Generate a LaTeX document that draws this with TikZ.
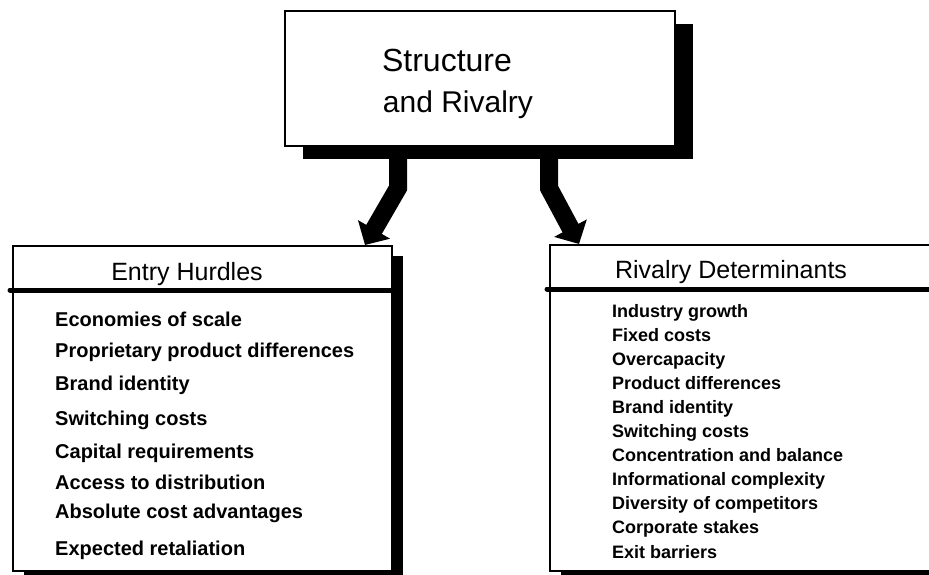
\documentclass[tikz,border=0pt]{standalone}
\usepackage{fontspec}
\setmainfont{Liberation Sans}
\usetikzlibrary{arrows.meta,calc,shadows}
\begin{document}
\begin{tikzpicture}[x=1pt,y=-1pt,
  box/.style={draw=black, line width=2pt, fill=white, inner sep=0pt, anchor=north west},
  topshadow/.style={drop shadow={shadow xshift=18pt, shadow yshift=-13pt, fill=black, opacity=1, draw=none}},
  lowshadow/.style={drop shadow={shadow xshift=11pt, shadow yshift=-10pt, fill=black, opacity=1, draw=none}},
  bigarrow/.style={draw=black, line width=18pt, line join=miter, -{Triangle[length=18pt,width=36pt]}},
  hline/.style={draw=black, line width=5pt, line cap=round},
  titletext/.style={inner sep=0pt, anchor=base, font=\fontsize{30}{36}\selectfont},
  headtext/.style={inner sep=0pt, anchor=base, font=\fontsize{25}{30}\selectfont},
  litem/.style={inner sep=0pt, anchor=base west, font=\fontsize{20}{24}\selectfont\bfseries},
  ritem/.style={inner sep=0pt, anchor=base west, font=\fontsize{18}{22}\selectfont\bfseries}
]
\path[use as bounding box] (0,0) rectangle (929,575);
\clip (0,0) rectangle (929,575);
\fill[white] (0,0) rectangle (929,575);

% boxes
\node[box, topshadow, minimum width=390pt, minimum height=135pt] (top) at (284,10) {};
\node[box, lowshadow, minimum width=379pt, minimum height=325pt] (ebox) at (12,245) {};
\node[box, lowshadow, minimum width=400pt, minimum height=326pt] (rbox) at (549,244) {};

% arrows
\coordinate (la) at ($(top.south west)+(114,8)$);
\coordinate (lb) at ($(top.south west)+(114,41)$);
\coordinate (lt) at ($(ebox.north west)+(353,0)$);
\coordinate (ra) at ($(top.south west)+(265,8)$);
\coordinate (rb) at ($(top.south west)+(265,41)$);
\coordinate (rt) at ($(rbox.north west)+(30,0)$);
\draw[bigarrow] (la) -- (lb) -- (lt);
\draw[bigarrow] (ra) -- (rb) -- (rt);

% header rules
\draw[hline] ($(ebox.north west)+(-2,45)$) -- ($(ebox.north east)+(0,45)$);
\draw[hline] ($(rbox.north west)+(-2,45)$) -- ($(rbox.north east)+(0,45)$);

% titles
\node[titletext, font=\fontsize{32}{36}\selectfont] (t1) at (447,72) {Structure};
\node[titletext] (t2) at (458,113) {and Rivalry};
\node[headtext] (h1) at (187,280) {Entry Hurdles};
\node[headtext] (h2) at (731,278) {Rivalry Determinants};

% left items
\foreach \y/\t [count=\i] in {326/Economies of scale, 357/Proprietary product differences, 390/Brand identity, 425/Switching costs, 458/Capital requirements, 489/Access to distribution, 518/Absolute cost advantages, 555/Expected retaliation}
  \node[litem] (l\i) at (55,\y) {\t};

% right items
\foreach \t [count=\i] in {Industry growth, Fixed costs, Overcapacity, Product differences, Brand identity, Switching costs, Concentration and balance, Informational complexity, Diversity of competitors, Corporate stakes, Exit barriers}
  \node[ritem] (r\i) at (612,{317+24.1*(\i-1)}) {\t};
\end{tikzpicture}
\end{document}
